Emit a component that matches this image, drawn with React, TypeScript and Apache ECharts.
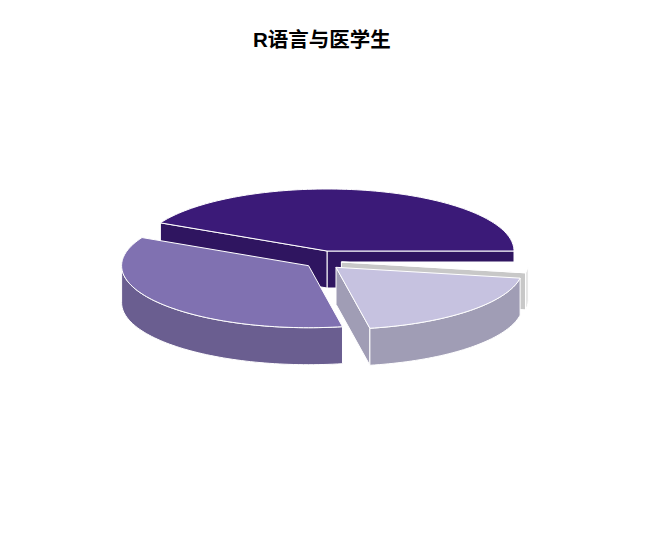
import React, { useEffect, useRef } from "react";
import * as echarts from "echarts";

const titleText = "R语言与医学生";
const categories = ["第一组", "第二组", "第三组", "第四组"];
const shares = [42.5, 35.4, 19.3, 2.8];

// Appearance of each slice, in the same order as the shares.
const topColors = ["#3B1A78", "#8071B1", "#C6C2E0", "#FFFFFF"];
const wallColors = ["#2F1560", "#6A5E90", "#A09DB5", "#E6E6E6"];
const cutColors = ["#2F1560", "#6A5E90", "#A09DB5", "#C8C8C8"];
const paintOrder = [1, 4, 3, 2];
const apexX = [327, 308.6, 336, 341.4];
const apexY = [251, 265.7, 267.3, 262];

const RX = 187;
const RY = 62;
const DEPTH = 37;
const total = shares.reduce((a, b) => a + b, 0);

const rim = (cx: number, cy: number, deg: number): [number, number] => {
  const r = (deg * Math.PI) / 180;
  return [cx + RX * Math.cos(r), cy - RY * Math.sin(r)];
};

const arc = (cx: number, cy: number, from: number, to: number) => {
  const pts: [number, number][] = [];
  const n = Math.max(2, Math.ceil(Math.abs(to - from) / 1.5));
  for (let i = 0; i <= n; i++) pts.push(rim(cx, cy, from + ((to - from) * i) / n));
  return pts;
};

const down = (pts: [number, number][]) =>
  pts.map(([x, y]) => [x, y + DEPTH] as [number, number]);

const renderSlice = (params: any, api: any) => {
  const i = params.dataIndex;
  const value = api.value(0);
  const before = shares.slice(0, i).reduce((a, b) => a + b, 0);
  const start = (before / total) * 360;
  const end = start + (value / total) * 360;
  const cx = apexX[i];
  const cy = apexY[i];
  const z2 = paintOrder[i];
  const stroke = { stroke: "#FFFFFF", lineWidth: 1 };
  const children: any[] = [];
  const cut = (deg: number) => {
    const edge: [number, number][] = [[cx, cy], rim(cx, cy, deg)];
    children.push({
      type: "polygon",
      z2,
      shape: { points: [...edge, ...down(edge).reverse()] },
      style: { fill: cutColors[i], ...stroke },
    });
  };
  if (Math.cos((start * Math.PI) / 180) > 0) cut(start);
  if (Math.cos((end * Math.PI) / 180) < 0) cut(end);
  const wallFrom = Math.max(start, 180);
  const wallTo = Math.min(end, 360);
  if (wallTo > wallFrom) {
    const top = arc(cx, cy, wallFrom, wallTo);
    children.push({
      type: "polygon",
      z2,
      shape: { points: [...top, ...down(top).reverse()] },
      style: { fill: wallColors[i], ...stroke },
    });
  }
  children.push({
    type: "polygon",
    z2,
    shape: { points: [[cx, cy], ...arc(cx, cy, start, end)] },
    style: { fill: topColors[i], ...stroke },
  });
  return { type: "group", children };
};

export default function App() {
  const ref = useRef<HTMLDivElement>(null);
  useEffect(() => {
    const chart = echarts.init(ref.current!, undefined, { renderer: "svg" });
    chart.setOption({
      animation: false,
      backgroundColor: "#FFFFFF",
      title: {
        text: titleText,
        left: 248,
        top: 24,
        textStyle: {
          color: "#000000",
          fontSize: 20.5,
          fontWeight: "bold",
          fontFamily: "'Liberation Sans', 'Noto Sans CJK SC', sans-serif",
        },
      },
      series: [
        {
          type: "custom",
          coordinateSystem: "none",
          silent: true,
          renderItem: renderSlice,
          data: categories.map((name, i) => ({ name, value: [shares[i]] })),
        },
      ],
    });
    return () => chart.dispose();
  }, []);
  return (
    <div
      ref={ref}
      style={{ position: "fixed", left: 0, top: 0, width: 646, height: 558 }}
    />
  );
}
